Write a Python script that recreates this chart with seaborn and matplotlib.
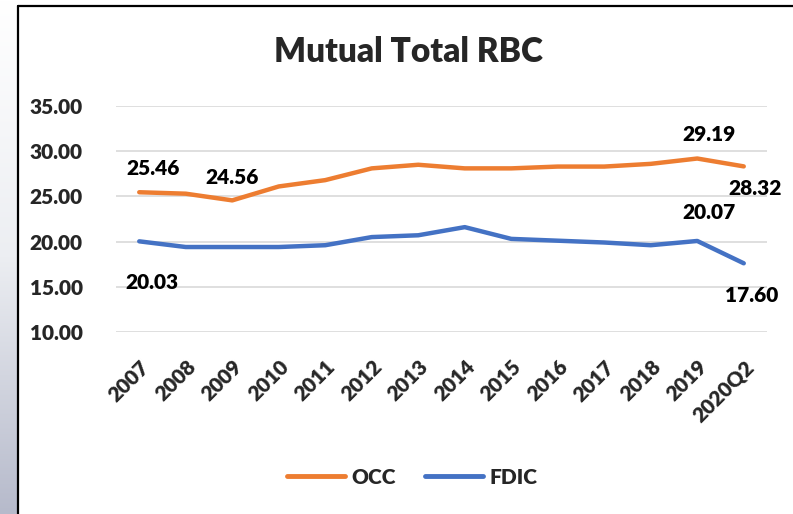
import numpy as np
import pandas as pd
import matplotlib.pyplot as plt
from matplotlib.lines import Line2D
from matplotlib.colors import LinearSegmentedColormap
import seaborn as sns

periods = ['2007', '2008', '2009', '2010', '2011', '2012', '2013', '2014',
           '2015', '2016', '2017', '2018', '2019', '2020Q2']
occ = [25.46, 25.3, 24.56, 26.1, 26.8, 28.1, 28.5, 28.1, 28.1, 28.3, 28.3, 28.6, 29.19, 28.32]
fdic = [20.03, 19.4, 19.4, 19.4, 19.6, 20.5, 20.7, 21.6, 20.3, 20.1, 19.9, 19.6, 20.07, 17.60]

df = pd.DataFrame({'Period': periods * 2,
                   'Value': occ + fdic,
                   'Agency': ['OCC'] * len(periods) + ['FDIC'] * len(periods)})

sns.set_style('white')
plt.rcParams['font.family'] = ['Lato', 'DejaVu Sans']
WT = 800

W, H = 793, 514
fig = plt.figure(figsize=(W / 100, H / 100), dpi=100)

# grey gradient strip on the left edge
strip = fig.add_axes([0, 0, 17 / W, 1])
grad = np.linspace(0, 1, 256).reshape(-1, 1)
strip.imshow(grad, aspect='auto', extent=[0, 1, 0, 1], origin='upper',
             cmap=LinearSegmentedColormap.from_list('g', ['#ffffff', '#eceef2', '#b6bacb']))
strip.axis('off')

# chart frame
fig.add_artist(Line2D([18 / W, 18 / W], [0, 1 - 6 / H], color='black', lw=1.6))
fig.add_artist(Line2D([18 / W, 1], [1 - 6 / H, 1 - 6 / H], color='black', lw=1.6))

ax = fig.add_axes([116 / W, 1 - 332 / H, (767 - 116) / W, (332 - 106) / H])
sns.lineplot(data=df, x='Period', y='Value', hue='Agency',
             palette={'OCC': '#ED7D31', 'FDIC': '#4472C4'},
             linewidth=3.2, ax=ax, legend=False, solid_capstyle='round')

ax.set_xlim(-0.5, len(periods) - 0.5)
ax.set_ylim(10, 35)
yt = np.arange(10, 36, 5)
ax.set_yticks(yt)
ax.set_yticklabels([f'{v:.2f}' for v in yt], fontsize=15, fontweight=WT)
ax.yaxis.grid(True, color='#d9d9d9', lw=1.2)
ax.set_axisbelow(True)
for s in ax.spines.values():
    s.set_visible(False)
ax.tick_params(axis='both', length=0)
ax.tick_params(axis='y', pad=24)
ax.set_xticks(range(len(periods)))
ax.set_xticklabels(periods, rotation=45, ha='right', va='top', rotation_mode='anchor',
                   fontsize=15, fontweight=WT)
ax.tick_params(axis='x', pad=18)
ax.set_xlabel('')
ax.set_ylabel('')

# data labels (offsets in pixels -> points)
labels = [(0, occ, 14, 24), (2, occ, 0, 23), (12, occ, 12, 24), (13, occ, 11, -22),
          (0, fdic, 13, -41), (12, fdic, 12, 28), (13, fdic, 8, -32)]
for i, series, dx, dy in labels:
    ax.annotate(f'{series[i]:.2f}', (i, series[i]), xytext=(dx * 0.72, dy * 0.72),
                textcoords='offset points', ha='center', va='center',
                fontsize=15, fontweight=WT, color='black')

fig.text(408 / W, 1 - 52 / H, 'Mutual Total RBC', ha='center', va='center',
         fontsize=24, fontweight=WT)

handles = [Line2D([], [], color='#ED7D31', lw=3.5, solid_capstyle='round'),
           Line2D([], [], color='#4472C4', lw=3.5, solid_capstyle='round')]
fig.legend(handles, ['OCC', 'FDIC'], loc='center', bbox_to_anchor=(412 / W, 1 - 477 / H),
           ncol=2, frameon=False, handlelength=2.8, columnspacing=1.4,
           handletextpad=0.3, prop={'weight': WT, 'size': 15})

fig.savefig('out.png', dpi=100)
